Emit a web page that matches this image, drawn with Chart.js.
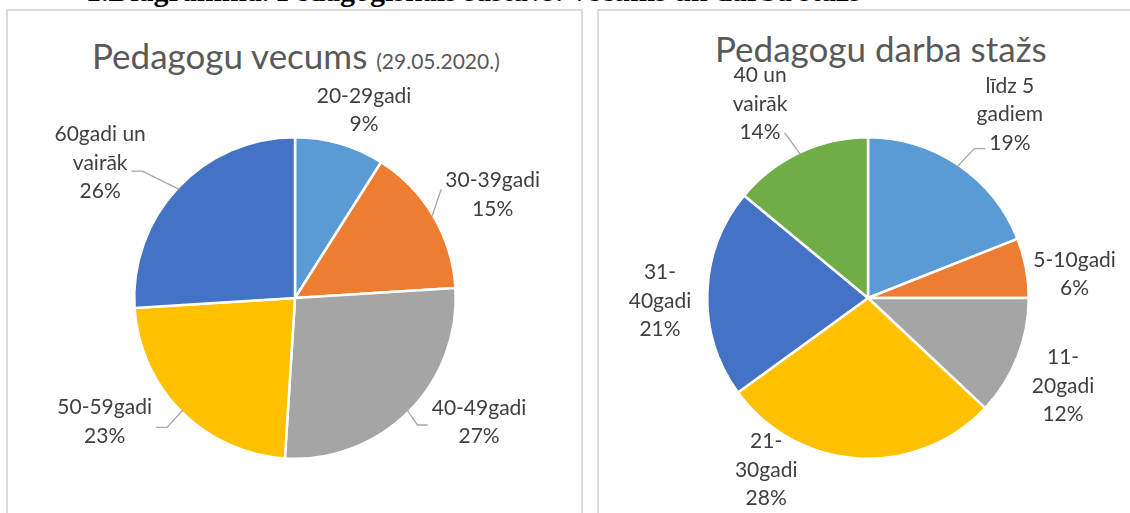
<!DOCTYPE html>
<html lang="lv">
<head>
  <meta charset="UTF-8" />
  <title>Pedagogu vecums un darba stāžs</title>
  <script src="https://cdn.jsdelivr.net/npm/chart.js"></script>
  <style>
    body {
      margin: 0;
      width: 1130px;
      height: 513px;
      overflow: hidden;
      position: relative;
      background: #fff;
      font-family: Lato, "Noto Sans", sans-serif;
    }
    .caption {
      position: absolute;
      left: 86px;
      top: -24px;
      font-family: "Liberation Serif", serif;
      font-weight: bold;
      font-size: 30px;
      line-height: 30px;
      white-space: nowrap;
      color: #000;
    }
    .panel {
      position: absolute;
      top: 9px;
      height: 520px;
      border: 2px solid #dadada;
      box-sizing: border-box;
    }
    .title {
      position: absolute;
      color: #595959;
      font-size: 35px;
      white-space: nowrap;
      line-height: 1;
    }
    .title small { font-size: 21px; }
    canvas { position: absolute; top: 0; }
  </style>
</head>
<body>
  <div class="caption">1.Diagramma. Pedagoģiskais sastāvs: vecums un darba stāžs</div>
  <div class="panel" style="left:6px; width:577px;"></div>
  <div class="panel" style="left:597px; width:560px;"></div>

  <div class="title" style="left:92px; top:38px;">Pedagogu vecums <small>(29.05.2020.)</small></div>
  <div class="title" style="left:715px; top:31px;">Pedagogu darba stažs</div>

  <div style="position:absolute; left:0; top:0; width:580px; height:513px;">
    <canvas id="ageChart" width="580" height="513"></canvas>
  </div>
  <div style="position:absolute; left:580px; top:0; width:550px; height:513px;">
    <canvas id="stazsChart" width="550" height="513"></canvas>
  </div>

  <script>
    // vecums
    const ageLabels = [['20-29gadi'], ['30-39gadi'], ['40-49gadi'], ['50-59gadi'], ['60gadi un', 'vairāk']];
    const ageValues = [9, 15, 27, 23, 26];

    // darba stāžs
    const stazsLabels = [['līdz 5', 'gadiem'], ['5-10gadi'], ['11-', '20gadi'], ['21-', '30gadi'], ['31-', '40gadi'], ['40 un', 'vairāk']];
    const stazsValues = [19, 6, 12, 28, 21, 14];

    const colors = ['#5B9BD5', '#ED7D31', '#A5A5A5', '#FFC000', '#4472C4', '#70AD47'];

    // label placement: angle shift (deg) from slice middle, distance from centre,
    // leader = line index where the leader line leaves the label (null = no line)
    const ageLabelPos = [
      { shift: 4, dist: 200, leader: null },
      { shift: 3, dist: 223, leader: 0.3 },
      { shift: -11, dist: 222, leader: 0.6 },
      { shift: 12, dist: 227, leader: 0.7 },
      { shift: -8.5, dist: 237, leader: 1.28 }
    ];
    const stazsLabelPos = [
      { shift: 3.5, dist: 232, leader: 2.2 },
      { shift: 4.2, dist: 208, leader: null },
      { shift: 2.7, dist: 214, leader: null },
      { shift: 27, dist: 200, leader: null },
      { shift: -2.6, dist: 208, leader: null },
      { shift: -3.9, dist: 222, leader: 2.0 }
    ];

    const LINE_H = 28.5;

    const outsideLabels = {
      id: 'outsideLabels',
      afterDatasetsDraw(chart, args, opts) {
        const ctx = chart.ctx;
        const meta = chart.getDatasetMeta(0);
        const values = chart.data.datasets[0].data;
        const total = values.reduce((a, b) => a + b, 0);
        ctx.save();
        ctx.font = '21px Lato';
        ctx.textAlign = 'center';
        ctx.textBaseline = 'middle';
        meta.data.forEach((arc, i) => {
          const pos = opts.positions[i];
          const mid = (arc.startAngle + arc.endAngle) / 2;
          const a = mid + pos.shift * Math.PI / 180;
          const lx = arc.x + Math.cos(a) * pos.dist;
          const ly = arc.y + Math.sin(a) * pos.dist;
          const lines = chart.data.labels[i].concat([Math.round(values[i] / total * 100) + '%']);
          const top = ly - (lines.length - 1) * LINE_H / 2;
          ctx.fillStyle = '#404040';
          lines.forEach((t, k) => ctx.fillText(t, lx, top + k * LINE_H));
          if (pos.leader !== null) {
            const w = ctx.measureText(lines[Math.floor(pos.leader)]).width;
            const px = arc.x + Math.cos(mid) * (arc.outerRadius - 2);
            const py = arc.y + Math.sin(mid) * (arc.outerRadius - 2);
            const dir = px > lx ? 1 : -1;
            const ex = lx + dir * (w / 2 + 4);
            const ey = top + pos.leader * LINE_H;
            const elbow = ex + dir * Math.min(11, Math.abs(px - ex) / 2);
            ctx.strokeStyle = '#a6a6a6';
            ctx.lineWidth = 1.3;
            ctx.beginPath();
            ctx.moveTo(ex, ey);
            if (Math.abs(py - ey) < Math.abs(px - ex)) ctx.lineTo(elbow, ey);
            ctx.lineTo(px, py);
            ctx.stroke();
          }
        });
        ctx.restore();
      }
    };

    function makePie(id, labels, values, positions, padding) {
      return new Chart(document.getElementById(id), {
        type: 'pie',
        data: {
          labels: labels,
          datasets: [{
            data: values,
            backgroundColor: colors.slice(0, values.length),
            borderColor: '#ffffff',
            borderWidth: 2.5
          }]
        },
        options: {
          responsive: false,
          animation: false,
          layout: { padding: padding },
          plugins: {
            legend: { display: false },
            tooltip: { enabled: false },
            outsideLabels: { positions: positions }
          }
        },
        plugins: [outsideLabels]
      });
    }

    makePie('ageChart', ageLabels, ageValues, ageLabelPos, { left: 133, right: 123, top: 136, bottom: 53 });
    makePie('stazsChart', stazsLabels, stazsValues, stazsLabelPos, { left: 126, right: 100, top: 136, bottom: 53 });
  </script>
</body>
</html>
